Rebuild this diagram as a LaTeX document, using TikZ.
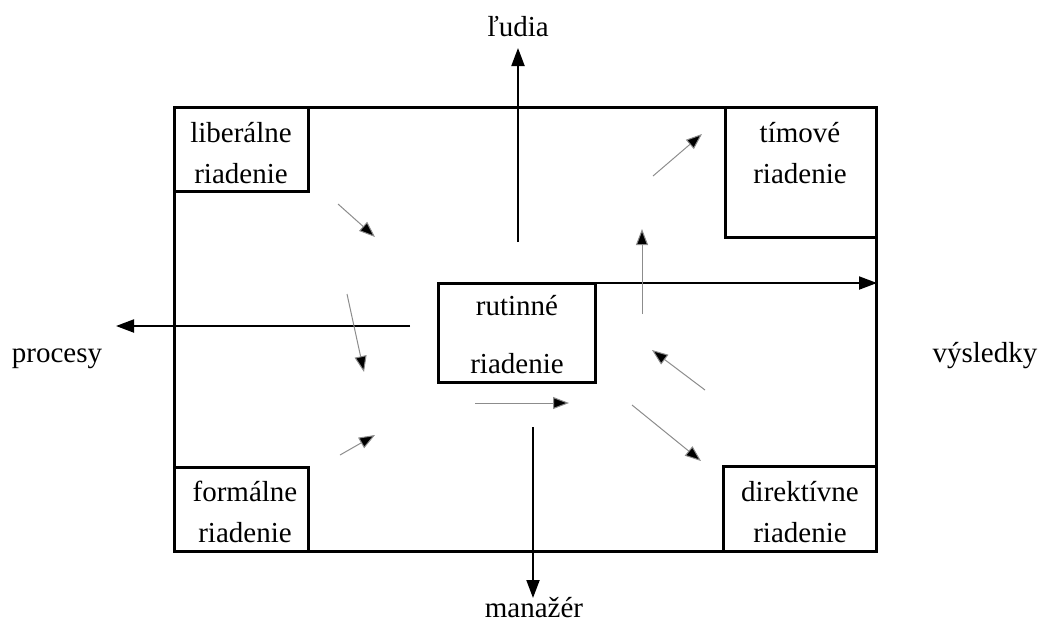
\documentclass[tikz,border=0pt]{standalone}
\usepackage{fontspec}
\setmainfont{Liberation Serif}
\usetikzlibrary{arrows.meta,fit}
\begin{document}
\begin{tikzpicture}[x=0.5pt,y=-0.5pt,
  box/.style={draw,line width=1.5pt,inner sep=0pt},
  lbl/.style={font=\fontsize{14.5}{17}\selectfont,inner sep=0pt,anchor=base},
  mainarrow/.style={line width=1pt,-{Triangle[length=9pt,width=6.5pt]}},
  thinarrow/.style={draw=black!45,line width=0.5pt,-{Triangle[length=8pt,width=6pt,fill=black]}}]
\useasboundingbox (0,0) rectangle (1044,623);
% outer frame
\coordinate (o1) at (174,107); \coordinate (o2) at (876,551);
\node[box,fit=(o1)(o2)] (frame) {};
% corner boxes
\coordinate (l1) at (174,107); \coordinate (l2) at (308,191);
\node[box,fit=(l1)(l2)] (lib) {};
\coordinate (t1) at (725,107); \coordinate (t2) at (876,237);
\node[box,fit=(t1)(t2)] (tim) {};
\coordinate (f1) at (174,467); \coordinate (f2) at (308,551);
\node[box,fit=(f1)(f2)] (form) {};
\coordinate (d1) at (723,466); \coordinate (d2) at (876,551);
\node[box,fit=(d1)(d2)] (dir) {};
\coordinate (r1) at (438,283); \coordinate (r2) at (595,382);
\node[box,fit=(r1)(r2)] (rut) {};
% box texts
\node[lbl] (libA) at (241,142) {liberálne};
\node[lbl] (libB) at (241,183) {riadenie};
\node[lbl] (timA) at (800,142) {tímové};
\node[lbl] (timB) at (800,183) {riadenie};
\node[lbl] (forA) at (245,501) {formálne};
\node[lbl] (forB) at (245,542) {riadenie};
\node[lbl] (dirA) at (800,501) {direktívne};
\node[lbl] (dirB) at (800,542) {riadenie};
\node[lbl] (rutA) at (517,315) {rutinné};
\node[lbl] (rutB) at (517,373) {riadenie};
% outer labels
\node[lbl] (ludia) at (518,36) {ľudia};
\node[lbl] (proc) at (57,362) {procesy};
\node[lbl] (vysl) at (985,362) {výsledky};
\node[lbl] (man) at (534,617) {manažér};
% main arrows
\coordinate (uS) at (518,242); \coordinate (uE) at (518,48);
\draw[mainarrow] (uS) -- (uE);
\coordinate (vS) at (580,283); \coordinate (vE) at (877,283);
\draw[mainarrow] (vS) -- (vE);
\coordinate (pS) at (410,326); \coordinate (pE) at (116,326);
\draw[mainarrow] (pS) -- (pE);
\coordinate (mS) at (533,427); \coordinate (mE) at (533,598);
\draw[mainarrow] (mS) -- (mE);
% thin arrows
\coordinate (a1s) at (338,204); \coordinate (a1e) at (375,237);
\draw[thinarrow] (a1s) -- (a1e);
\coordinate (a2s) at (347,294); \coordinate (a2e) at (364,372);
\draw[thinarrow] (a2s) -- (a2e);
\coordinate (a3s) at (340,455); \coordinate (a3e) at (375,435);
\draw[thinarrow] (a3s) -- (a3e);
\coordinate (a4s) at (475,403); \coordinate (a4e) at (569,403);
\draw[thinarrow] (a4s) -- (a4e);
\coordinate (a5s) at (632,405); \coordinate (a5e) at (701,461);
\draw[thinarrow] (a5s) -- (a5e);
\coordinate (a6s) at (705,390); \coordinate (a6e) at (652,350);
\draw[thinarrow] (a6s) -- (a6e);
\coordinate (a7s) at (642,314); \coordinate (a7e) at (642,229);
\draw[thinarrow] (a7s) -- (a7e);
\coordinate (a8s) at (653,176); \coordinate (a8e) at (702,134);
\draw[thinarrow] (a8s) -- (a8e);
\end{tikzpicture}
\end{document}
